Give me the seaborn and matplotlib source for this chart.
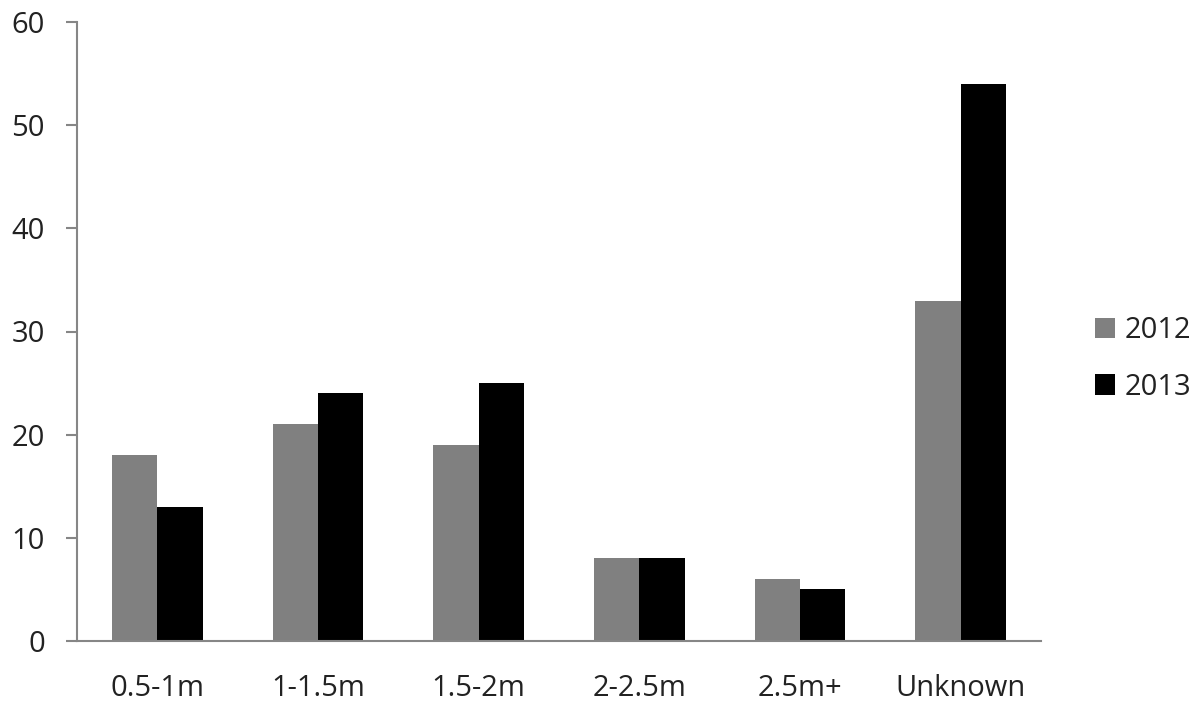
import matplotlib
matplotlib.use("Agg")
import matplotlib.pyplot as plt
import seaborn as sns
import pandas as pd
from matplotlib.patches import Patch
from matplotlib.ticker import FixedLocator, MultipleLocator

categories = ["0.5-1m", "1-1.5m", "1.5-2m", "2-2.5m", "2.5m+", "Unknown"]
years = ["2012", "2013"]
values_2012 = [18, 21, 19, 8, 6, 33]
values_2013 = [13, 24, 25, 8, 5, 54]

df = pd.DataFrame({
    "category": categories * 2,
    "year": [years[0]] * len(categories) + [years[1]] * len(categories),
    "count": values_2012 + values_2013,
})

sns.set_theme(style="white")
plt.rcParams["font.family"] = ["Open Sans", "DejaVu Sans"]

palette = {"2012": "#808080", "2013": "#000000"}
axis_color = "#868686"
text_color = "#222222"
fs = 21

fig = plt.figure(figsize=(12.02, 7.08), dpi=100)
ax = fig.add_axes([77 / 1202, 67 / 708, (1041 - 77) / 1202, (641 - 22) / 708])

sns.barplot(data=df, x="category", y="count", hue="year", order=categories,
            hue_order=years, palette=palette, width=0.566, gap=0,
            saturation=1, linewidth=0, ax=ax, legend=False)

ax.set_xlim(-0.5, len(categories) - 0.5)
ax.set_ylim(0, 60)
ax.yaxis.set_major_locator(MultipleLocator(10))
ax.set_xlabel("")
ax.set_ylabel("")

for side in ("top", "right"):
    ax.spines[side].set_visible(False)
for side in ("left", "bottom"):
    ax.spines[side].set_color(axis_color)
    ax.spines[side].set_linewidth(1.5)

# category labels centred, tick marks at the group boundaries
ax.xaxis.set_minor_locator(FixedLocator([i - 0.5 for i in range(len(categories) + 1)]))
ax.tick_params(axis="x", which="major", length=0, pad=24, labelsize=fs, labelcolor=text_color)
ax.tick_params(axis="x", which="minor", length=9, width=1.5, color=axis_color, direction="out")
ax.tick_params(axis="y", which="major", left=True, length=8, width=1.5, color=axis_color,
               direction="out", pad=15, labelsize=fs, labelcolor=text_color)
ax.grid(False)

handles = [Patch(facecolor=palette[y], edgecolor="none", label=y) for y in years]
fig.legend(handles=handles, loc="center left", bbox_to_anchor=(1095 / 1202, 1 - 359 / 708),
           frameon=False, fontsize=fs, handlelength=0.7, handleheight=0.7,
           handletextpad=0.3, labelspacing=0.95, borderpad=0, borderaxespad=0,
           labelcolor=text_color)

fig.savefig("out.png", dpi=100, facecolor="white")
